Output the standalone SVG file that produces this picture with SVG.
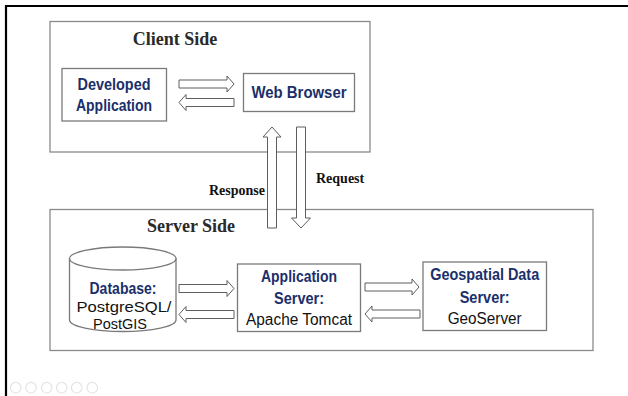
<svg xmlns="http://www.w3.org/2000/svg" width="628" height="396" viewBox="0 0 628 396">
<style>
.frame{fill:none;stroke:#000;stroke-width:2.2}
.group{fill:#fff;stroke:#8a8a8a;stroke-width:1.3}
.box{fill:#fff;stroke:#7a7a7a;stroke-width:1.3}
.arr{fill:#fff;stroke:#5e5e5e;stroke-width:1}
.title{font-family:"Liberation Serif","Times New Roman",serif;font-weight:bold;font-size:18px;fill:#2a2a2a;text-anchor:middle}
.lbl{font-family:"Liberation Serif","Times New Roman",serif;font-weight:bold;font-size:14px;fill:#111}
.nb{font-family:"Liberation Sans",Arial,sans-serif;font-weight:bold;font-size:16px;fill:#1b2f6b;text-anchor:middle}
.nr{font-family:"Liberation Sans",Arial,sans-serif;font-size:16px;fill:#111;text-anchor:middle}
.ns{font-size:15px}
.ic{fill:none;stroke:#e4e4e4;stroke-width:1.2}
</style>
<rect width="628" height="396" fill="#fff"/>
<path class="frame" d="M6,400 L6,6 L632,6"/>
<g id="client-side">
<rect class="group" x="50" y="21.5" width="320" height="130.5"/>
<text class="title" x="175" y="45">Client Side</text>
</g>
<g id="server-side">
<rect class="group" x="50" y="209.5" width="543" height="141"/>
<text class="title" x="191" y="231.5">Server Side</text>
</g>
<g id="developed-application">
<rect class="box" x="62" y="68.5" width="104.5" height="52.5"/>
<text class="nb" x="114" y="90" textLength="73" lengthAdjust="spacingAndGlyphs">Developed</text>
<text class="nb" x="114" y="110.5" textLength="76" lengthAdjust="spacingAndGlyphs">Application</text>
</g>
<g id="web-browser">
<rect class="box" x="243.5" y="73.5" width="111" height="38"/>
<text class="nb" x="299" y="98" textLength="95" lengthAdjust="spacingAndGlyphs">Web Browser</text>
</g>
<g id="database">
<path class="box" d="M69.5,258.5 L69.5,320 A53.25,11.5 0 0 0 176,320 L176,258.5 Z"/>
<ellipse class="box" cx="122.75" cy="258.5" rx="53.25" ry="11.5"/>
<text class="nb" x="123" y="294" textLength="67" lengthAdjust="spacingAndGlyphs">Database:</text>
<text class="nr ns" x="124" y="312" textLength="95" lengthAdjust="spacingAndGlyphs">PostgreSQL/</text>
<text class="nr ns" x="120" y="329" textLength="54" lengthAdjust="spacingAndGlyphs">PostGIS</text>
</g>
<g id="application-server">
<rect class="box" x="237.5" y="264" width="123" height="67.5"/>
<text class="nb" x="299" y="282" textLength="76" lengthAdjust="spacingAndGlyphs">Application</text>
<text class="nb" x="299" y="303.5" textLength="50" lengthAdjust="spacingAndGlyphs">Server:</text>
<text class="nr" x="299" y="325" textLength="106" lengthAdjust="spacingAndGlyphs">Apache Tomcat</text>
</g>
<g id="geospatial-data-server">
<rect class="box" x="423" y="262" width="123.5" height="68.5"/>
<text class="nb" x="484.7" y="279.5" textLength="109" lengthAdjust="spacingAndGlyphs">Geospatial Data</text>
<text class="nb" x="484.7" y="302.7" textLength="50" lengthAdjust="spacingAndGlyphs">Server:</text>
<text class="nr" x="484.7" y="324" textLength="74" lengthAdjust="spacingAndGlyphs">GeoServer</text>
</g>
<g id="connectors">
<polygon class="arr" points="179,80 227,80 227,76 234,84 227,92 227,88 179,88"/>
<polygon class="arr" points="234,98.5 186,98.5 186,94.5 179,102.5 186,110.5 186,106.5 234,106.5"/>
<polygon class="arr" points="267.5,228 267.5,137 263,137 272,127 281,137 276.5,137 276.5,228"/>
<polygon class="arr" points="296.5,127 305.5,127 305.5,218 310.5,218 301,228 291.5,218 296.5,218"/>
<polygon class="arr" points="179,284.5 227,284.5 227,280.5 234,288.5 227,296.5 227,292.5 179,292.5"/>
<polygon class="arr" points="234,310.5 186,310.5 186,306.5 179,314.5 186,322.5 186,318.5 234,318.5"/>
<polygon class="arr" points="365,283 412,283 412,279 419,287 412,295 412,291 365,291"/>
<polygon class="arr" points="420,310 372,310 372,306 365,314 372,322 372,318 420,318"/>
<text class="lbl" x="265" y="195" text-anchor="end">Response</text>
<text class="lbl" x="316" y="182.5">Request</text>
</g>
<g id="controls">
<circle class="ic" cx="15.7" cy="387.7" r="5.3"/>
<circle class="ic" cx="31" cy="387.7" r="5.3"/>
<circle class="ic" cx="46.7" cy="387.7" r="5.3"/>
<circle class="ic" cx="61.7" cy="387.7" r="5.3"/>
<circle class="ic" cx="76.7" cy="387.7" r="5.3"/>
<circle class="ic" cx="92.3" cy="387.7" r="5.3"/>
</g>
</svg>
